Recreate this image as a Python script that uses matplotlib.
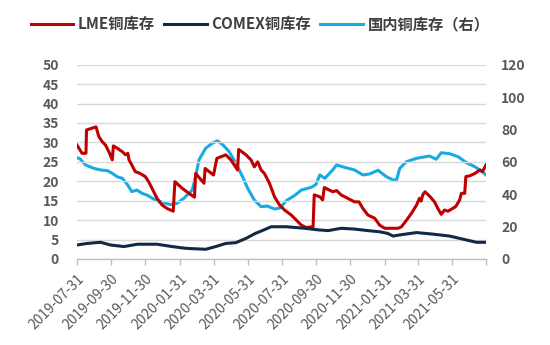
import matplotlib
matplotlib.use("Agg")
import matplotlib.pyplot as plt
import pandas as pd

plt.rcParams['font.family'] = ['Noto Sans CJK SC', 'DejaVu Sans']

# LME copper inventory (left axis)
lme_dates = [
    "2019-07-31", "2019-08-09", "2019-08-16", "2019-08-17", "2019-09-03", "2019-09-08",
    "2019-09-14", "2019-09-20", "2019-09-26", "2019-10-02", "2019-10-04", "2019-10-11",
    "2019-10-20", "2019-10-26", "2019-10-30", "2019-11-01", "2019-11-06", "2019-11-12",
    "2019-11-21", "2019-11-30", "2019-12-06", "2019-12-12", "2019-12-21", "2019-12-30",
    "2020-01-08", "2020-01-19", "2020-01-22", "2020-02-04", "2020-02-16", "2020-02-26",
    "2020-02-28", "2020-03-14", "2020-03-16", "2020-03-31", "2020-04-06", "2020-04-22",
    "2020-05-01", "2020-05-07", "2020-05-13", "2020-05-15", "2020-05-28", "2020-06-06",
    "2020-06-12", "2020-06-18", "2020-06-24", "2020-06-30", "2020-07-09", "2020-07-18",
    "2020-07-27", "2020-08-05", "2020-08-17", "2020-08-26", "2020-09-04", "2020-09-13",
    "2020-09-25", "2020-09-27", "2020-10-07", "2020-10-12", "2020-10-15", "2020-10-30",
    "2020-11-06", "2020-11-14", "2020-11-26", "2020-12-08", "2020-12-16", "2020-12-23",
    "2021-01-01", "2021-01-13", "2021-01-22", "2021-01-31", "2021-02-24", "2021-03-02",
    "2021-03-11", "2021-03-20", "2021-03-29", "2021-04-03", "2021-04-06", "2021-04-09",
    "2021-04-13", "2021-04-21", "2021-04-30", "2021-05-06", "2021-05-12", "2021-05-18",
    "2021-05-24", "2021-05-30", "2021-06-07", "2021-06-14", "2021-06-17", "2021-06-23",
    "2021-06-25", "2021-07-02", "2021-07-11", "2021-07-20", "2021-07-25", "2021-07-31",
]
lme_values = [
    29.3, 27.2, 27.2, 33.2, 34.0, 31.5,
    30.2, 29.3, 27.6, 25.5, 29.1, 28.5,
    27.6, 26.8, 27.2, 25.5, 24.2, 22.5,
    22.0, 21.2, 19.9, 18.2, 15.6, 13.9,
    13.0, 12.3, 19.9, 18.2, 16.9, 15.9,
    22.0, 19.5, 23.3, 21.6, 25.9, 26.8,
    25.5, 24.2, 22.9, 28.2, 26.8, 25.5,
    23.7, 25.0, 22.9, 22.0, 19.5, 16.0,
    13.9, 12.6, 11.3, 10.0, 8.7, 8.1,
    8.3, 16.5, 16.0, 15.2, 18.4, 17.3,
    17.6, 16.5, 15.6, 14.7, 14.7, 13.0,
    11.3, 10.5, 8.7, 7.9, 7.9, 8.3,
    10.0, 11.8, 13.9, 15.6, 14.9, 16.5,
    17.3, 16.2, 14.7, 13.0, 11.5, 12.6,
    12.3, 12.8, 13.5, 15.2, 16.9, 16.9,
    21.2, 21.4, 22.0, 22.9, 22.5, 24.2,
]

# COMEX copper inventory (left axis)
comex_dates = [
    "2019-07-31", "2019-08-18", "2019-09-11", "2019-09-29", "2019-10-23", "2019-11-16",
    "2019-12-21", "2020-01-17", "2020-02-07", "2020-02-16", "2020-03-17", "2020-04-04",
    "2020-04-22", "2020-05-10", "2020-05-28", "2020-06-14", "2020-06-26", "2020-07-12",
    "2020-08-08", "2020-09-10", "2020-10-04", "2020-10-22", "2020-11-14", "2020-12-08",
    "2021-01-01", "2021-01-22", "2021-02-05", "2021-02-15", "2021-02-27", "2021-03-29",
    "2021-04-27", "2021-05-27", "2021-06-26", "2021-07-14", "2021-07-31",
]
comex_values = [
    3.6, 4.0, 4.3, 3.6, 3.2, 3.8,
    3.8, 3.2, 2.8, 2.7, 2.5, 3.2,
    4.0, 4.2, 5.3, 6.6, 7.3, 8.3,
    8.3, 7.9, 7.5, 7.3, 7.9, 7.7,
    7.3, 7.0, 6.6, 5.9, 6.2, 6.8,
    6.4, 5.9, 4.9, 4.3, 4.3,
]

# Domestic copper inventory (right axis)
cn_dates = [
    "2019-07-31", "2019-08-05", "2019-08-15", "2019-08-30", "2019-09-11", "2019-09-23",
    "2019-10-02", "2019-10-11", "2019-10-20", "2019-10-29", "2019-11-06", "2019-11-15",
    "2019-11-24", "2019-12-03", "2019-12-18", "2020-01-02", "2020-01-14", "2020-01-26",
    "2020-02-07", "2020-02-22", "2020-02-28", "2020-03-05", "2020-03-17", "2020-03-29",
    "2020-04-07", "2020-04-17", "2020-04-28", "2020-05-10", "2020-05-22", "2020-05-31",
    "2020-06-12", "2020-06-24", "2020-07-05", "2020-07-18", "2020-07-28", "2020-08-08",
    "2020-08-24", "2020-09-04", "2020-09-22", "2020-09-30", "2020-10-07", "2020-10-16",
    "2020-10-30", "2020-11-06", "2020-11-20", "2020-12-08", "2020-12-23", "2021-01-04",
    "2021-01-19", "2021-02-03", "2021-02-15", "2021-02-21", "2021-02-27", "2021-03-11",
    "2021-03-29", "2021-04-21", "2021-05-03", "2021-05-12", "2021-05-27", "2021-06-11",
    "2021-06-26", "2021-07-11", "2021-07-20", "2021-07-31",
]
cn_values = [
    62.5, 62.0, 58.1, 56.0, 55.0, 54.6,
    52.9, 50.8, 49.8, 46.0, 41.6, 42.6,
    40.6, 39.5, 36.4, 34.8, 33.6, 34.4,
    37.5, 42.6, 50.8, 61.2, 68.4, 71.5,
    73.0, 70.4, 66.3, 59.1, 50.8, 43.7,
    36.4, 32.3, 32.7, 30.9, 31.5, 36.0,
    39.5, 42.6, 44.3, 46.0, 51.9, 49.8,
    55.0, 58.1, 56.6, 55.0, 51.9, 52.5,
    54.8, 50.8, 48.8, 48.8, 56.0, 60.1,
    62.2, 63.6, 61.6, 65.6, 65.0, 63.2,
    59.5, 57.0, 55.0, 51.9,
]

tick_dates = [
    "2019-07-31", "2019-09-30", "2019-11-30", "2020-01-31", "2020-03-31", "2020-05-31",
    "2020-07-31", "2020-09-30", "2020-11-30", "2021-01-31", "2021-03-31", "2021-05-31",
    "2021-07-31",
]
tick_labels = [
    "2019-07-31", "2019-09-30", "2019-11-30", "2020-01-31", "2020-03-31", "2020-05-31",
    "2020-07-31", "2020-09-30", "2020-11-30", "2021-01-31", "2021-03-31", "2021-05-31",
    "",
]

series_names = ["LME铜库存", "COMEX铜库存", "国内铜库存（右）"]
colors = ["#C00000", "#0F2A45", "#1AAAE2"]
text_color = "#595959"
grid_color = "#D9D9D9"

fig = plt.figure(figsize=(5.5, 3.45), dpi=100)
ax = fig.add_axes([0.14, 0.2493, 0.7436, 0.5632])
ax2 = ax.twinx()

lw = 2.2
l1, = ax.plot(pd.to_datetime(lme_dates), lme_values, color=colors[0], lw=lw,
              solid_joinstyle="round", label=series_names[0], zorder=3)
l2, = ax.plot(pd.to_datetime(comex_dates), comex_values, color=colors[1], lw=lw,
              solid_joinstyle="round", label=series_names[1], zorder=3)
l3, = ax2.plot(pd.to_datetime(cn_dates), cn_values, color=colors[2], lw=lw,
               solid_joinstyle="round", label=series_names[2], zorder=3)

# Left axis draws above the right one so the red and navy lines overlay the blue line
ax.set_zorder(ax2.get_zorder() + 1)
ax.patch.set_visible(False)

ax.set_ylim(0, 50)
ax.set_yticks(range(0, 51, 5))
ax2.set_ylim(0, 120)
ax2.set_yticks(range(0, 121, 20))

ax.set_xlim(pd.Timestamp(tick_dates[0]), pd.Timestamp(tick_dates[-1]))
ax.set_xticks(pd.to_datetime(tick_dates))
ax.set_xticklabels(tick_labels, rotation=45, ha="right", rotation_mode="anchor",
                   fontsize=10, color=text_color)

ax.yaxis.grid(True, color=grid_color, lw=1.0)
ax.set_axisbelow(True)

for a in (ax, ax2):
    for s in ("top", "left", "right", "bottom"):
        a.spines[s].set_visible(False)
ax.spines["bottom"].set_visible(True)
ax.spines["bottom"].set_color("#BFBFBF")
ax.spines["bottom"].set_linewidth(1.0)

ax.tick_params(axis="x", direction="out", length=4, width=1.0, color="#BFBFBF", pad=5)
ax.tick_params(axis="y", length=0, labelsize=10, labelcolor=text_color, pad=13)
ax2.tick_params(axis="y", length=0, labelsize=10, labelcolor=text_color, pad=11)
for lab in ax.get_yticklabels() + ax2.get_yticklabels():
    lab.set_fontweight("bold")

fig.legend(handles=[l1, l2, l3], labels=series_names, loc="center",
           bbox_to_anchor=(0.473, 0.93), ncol=3, frameon=False,
           handlelength=2.8, handletextpad=0.3, columnspacing=0.6,
           prop={"size": 11, "weight": "bold"}, labelcolor="#404040")

fig.savefig("out.png", dpi=100)
